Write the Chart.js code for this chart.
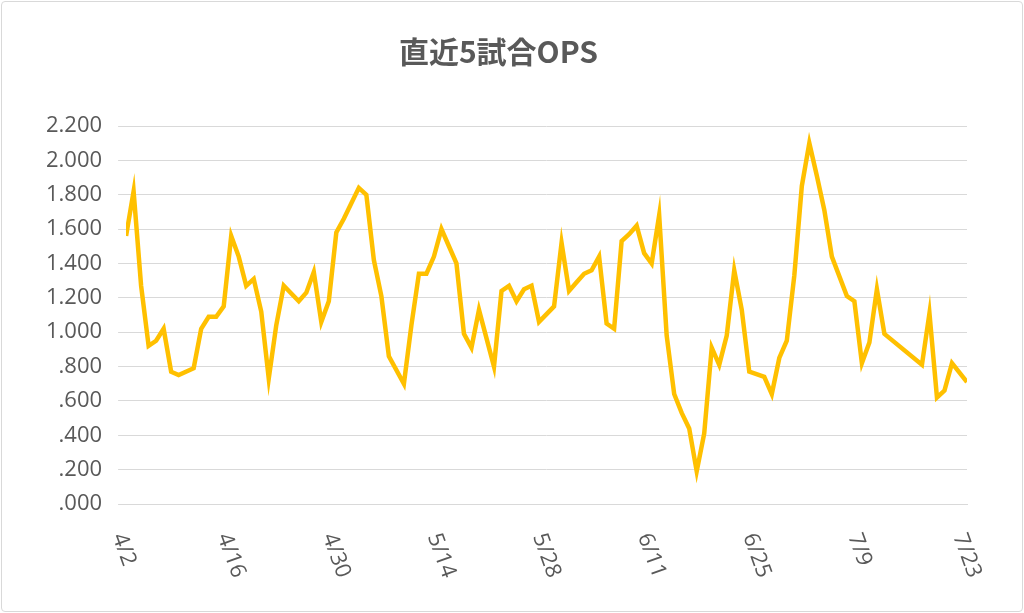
<!DOCTYPE html>
<html>
<head>
<meta charset="utf-8">
<script src="https://cdn.jsdelivr.net/npm/chart.js@4"></script>
<style>
  html, body { margin: 0; padding: 0; background: #fff; }
  #wrap { position: absolute; left: 1px; top: 1px; width: 1020px; height: 609px; border: 1px solid #d9d9d9; border-radius: 4px; }
</style>
</head>
<body>
<div id="wrap"><canvas id="chart"></canvas></div>
<script>
// day offsets from 4/2 and the 5-game OPS
const days = [0,1,2,3,4,5,6,7,9,10,11,12,13,14,15,16,17,18,19,20,21,23,24,25,26,27,28,29,30,31,32,33,34,35,37,38,39,40,41,42,43,44,45,46,47,49,50,51,52,53,54,55,57,58,59,60,61,62,63,64,65,66,67,68,69,70,71,72,73,74,75,76,77,78,79,80,81,82,83,85,86,87,88,89,90,91,92,93,94,96,97,98,99,100,101,106,107,108,109,110,112];
const ops  = [1.56,1.82,1.27,0.92,0.95,1.02,0.77,0.75,0.79,1.02,1.09,1.09,1.15,1.56,1.44,1.27,1.31,1.12,0.73,1.04,1.27,1.18,1.23,1.35,1.06,1.18,1.58,1.66,1.75,1.84,1.80,1.42,1.21,0.86,0.70,1.04,1.34,1.34,1.44,1.60,1.50,1.40,0.99,0.91,1.13,0.80,1.24,1.27,1.18,1.25,1.27,1.06,1.15,1.52,1.24,1.29,1.34,1.36,1.44,1.05,1.02,1.53,1.57,1.62,1.46,1.40,1.68,0.98,0.64,0.53,0.44,0.19,0.41,0.91,0.81,0.98,1.36,1.13,0.77,0.74,0.64,0.85,0.95,1.33,1.85,2.10,1.91,1.71,1.44,1.21,1.18,0.82,0.94,1.25,0.99,0.81,1.11,0.62,0.66,0.82,0.71];
const dateLabels = ['4/2','4/16','4/30','5/14','5/28','6/11','6/25','7/9','7/23'];

const rotatedLabels = {
  id: 'rotatedLabels',
  afterDraw(chart) {
    const ctx = chart.ctx, xs = chart.scales.x, bottom = chart.chartArea.bottom;
    ctx.save();
    ctx.font = '22px "Open Sans", sans-serif';
    ctx.fillStyle = '#595959';
    ctx.textBaseline = 'middle';
    dateLabels.forEach((t, i) => {
      const px = xs.getPixelForValue(i * 14);
      ctx.save();
      ctx.translate(px - 8, bottom + 30);
      ctx.rotate(70 * Math.PI / 180);
      ctx.fillText(t, 0, 0);
      ctx.restore();
    });
    ctx.restore();
  }
};

new Chart(document.getElementById('chart'), {
  type: 'line',
  data: {
    datasets: [{
      data: days.map((d, i) => ({ x: d, y: ops[i] })),
      borderColor: '#FFC000',
      borderWidth: 4.5,
      pointRadius: 0,
      tension: 0
    }]
  },
  options: {
    responsive: true,
    maintainAspectRatio: false,
    animation: false,
    layout: { padding: { left: 28, right: 55, top: 10, bottom: 99 } },
    plugins: {
      legend: { display: false },
      tooltip: { enabled: false },
      title: {
        display: true,
        text: '直近5試合OPS',
        color: '#595959',
        font: { size: 30, weight: 'bold', family: '"Noto Sans CJK JP", sans-serif' },
        padding: { top: 22, bottom: 56 }
      }
    },
    scales: {
      x: {
        type: 'linear',
        min: 0, max: 112,
        grid: { display: false },
        border: { color: '#d9d9d9' },
        ticks: { display: false, stepSize: 14 }
      },
      y: {
        min: 0, max: 2.2,
        grid: { color: '#d9d9d9' },
        border: { display: false },
        ticks: {
          stepSize: 0.2,
          color: '#595959',
          padding: 16,
          font: { size: 22, family: '"Open Sans", sans-serif' },
          callback: v => v.toFixed(3).replace(/^0/, '')
        }
      }
    }
  },
  plugins: [rotatedLabels]
});
</script>
</body>
</html>
